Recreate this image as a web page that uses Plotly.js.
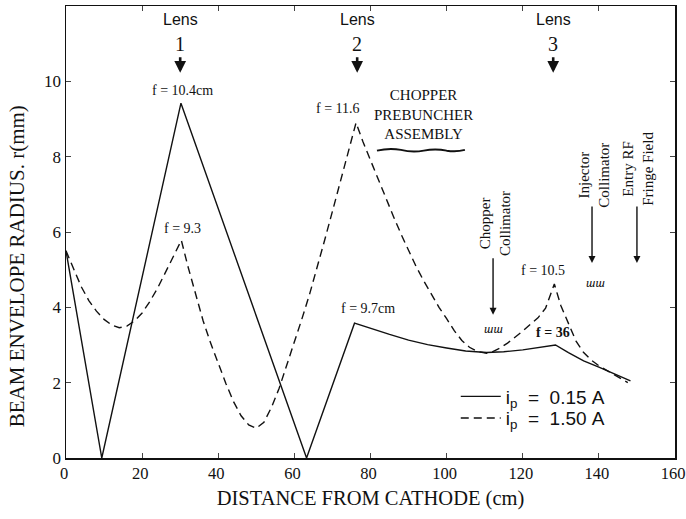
<!DOCTYPE html>
<html>
<head>
<meta charset="utf-8">
<script src="https://cdn.plot.ly/plotly-3.0.1.min.js"></script>
<style>html,body{margin:0;padding:0;background:#fff;}#chart{width:686px;height:519px;}</style>
</head>
<body>
<div id="chart"></div>
<script>
// Distance from cathode (cm) and beam envelope radius (mm)
const lowCurrentX = [0, 9.4, 30.2, 63.2, 75.8, 80, 85, 90, 95, 100, 105, 110.5, 115, 120, 125, 128.6, 132, 136, 140, 144, 148.3];
const lowCurrentY = [5.5, 0, 9.42, 0, 3.58, 3.44, 3.28, 3.13, 3.01, 2.92, 2.84, 2.8, 2.82, 2.87, 2.94, 3.0, 2.8, 2.58, 2.41, 2.24, 2.05];

const highCurrentX = [0, 2, 4, 6, 8, 10, 12, 14, 16, 18, 20, 22, 24, 26, 28, 30.3,
  32, 34, 36, 38, 40, 42, 44, 46, 48, 50, 52, 54, 56, 58, 60, 62, 64, 66, 68, 70, 72, 74, 76.2,
  78, 80, 82, 84, 86, 88, 90, 92, 94, 96, 98, 100, 102, 104, 106, 108, 110.5,
  112, 114, 116, 118, 120, 122, 124, 126, 128.3,
  130, 132, 134, 136, 138, 140, 142, 144, 146, 147.6];
const highCurrentY = [5.5, 5.0, 4.55, 4.18, 3.9, 3.68, 3.53, 3.46, 3.5, 3.64, 3.85, 4.15, 4.5, 4.9, 5.3, 5.78,
  5.1, 4.35, 3.65, 3.05, 2.5, 1.98, 1.5, 1.12, 0.88, 0.79, 0.95, 1.35, 1.85, 2.45, 3.05, 3.7, 4.35, 5.05, 5.8, 6.55, 7.3, 8.1, 8.9,
  8.4, 7.9, 7.38, 6.9, 6.42, 5.95, 5.5, 5.08, 4.7, 4.35, 4.0, 3.7, 3.38, 3.12, 2.94, 2.83, 2.78,
  2.82, 2.92, 3.05, 3.2, 3.37, 3.55, 3.72, 3.98, 4.62,
  4.05, 3.55, 3.1, 2.8, 2.6, 2.45, 2.33, 2.22, 2.1, 2.0];

const seriesNames = ["i<sub>p</sub>\u00A0 = \u00A00.15\u00A0A", "i<sub>p</sub>\u00A0 = \u00A01.50\u00A0A"];
const xTicks = [0, 20, 40, 60, 80, 100, 120, 140, 160];
const yTicks = [0, 2, 4, 6, 8, 10];

// Lenses
const lensX = [30, 76.5, 128];
const lensNames = ["1", "2", "3"];

// Focal length labels
const focalText = ["f = 10.4cm", "f = 9.3", "f = 11.6", "f = 9.7cm", "f = 10.5", "<b>f = 36</b>"];
const focalX = [30.5, 30.7, 71.5, 79.3, 125.3, 128.0];
const focalY = [9.77, 6.08, 9.27, 3.98, 4.99, 3.32];

// Collimators / markers
const markerLabels = ["Chopper<br>Collimator", "Injector<br>Collimator", "Entry RF<br>Fringe Field"];
const markerX = [112.2, 138.2, 150.0];
const markerHeadY = [3.8, 5.18, 5.18];
const markerLabelY = [6.24, 7.52, 7.68];
const markerLabelX = [112.7, 138.7, 150.3];
const hatchX = [112.2, 139.0];
const hatchY = [3.45, 4.65];

const serif = "Liberation Serif, Times New Roman, serif";
const sans = "Liberation Sans, Arial, sans-serif";

const traces = [
  {x: lowCurrentX, y: lowCurrentY, name: seriesNames[0], type: "scatter", mode: "lines",
   legend: "legend", line: {color: "#111", width: 1.4}},
  {x: highCurrentX, y: highCurrentY, name: seriesNames[1], type: "scatter", mode: "lines",
   legend: "legend2", line: {color: "#111", width: 1.4, dash: "8px,5px"}}
];

const annotations = [];
lensX.forEach((lx, i) => {
  annotations.push({x: lx, y: 11.63, xref: "x", yref: "y", text: "Lens", showarrow: false,
    font: {family: sans, size: 16, color: "#111"}});
  annotations.push({x: lx, y: 11.0, xref: "x", yref: "y", text: lensNames[i], showarrow: false,
    font: {family: serif, size: 20, color: "#111"}});
  annotations.push({x: lx, y: 10.23, xref: "x", yref: "y", text: "", showarrow: true,
    ax: 0, ay: -17, arrowhead: 2, arrowsize: 0.9, arrowwidth: 2.6, arrowcolor: "#111"});
});
focalText.forEach((t, i) => {
  annotations.push({x: focalX[i], y: focalY[i], xref: "x", yref: "y", text: t, showarrow: false,
    font: {family: serif, size: 14, color: "#111"}});
});
annotations.push({x: 93.8, y: 9.11, xref: "x", yref: "y", text: "CHOPPER<br>PREBUNCHER<br>ASSEMBLY",
  showarrow: false, font: {family: serif, size: 15, color: "#111"}});
markerLabels.forEach((t, i) => {
  annotations.push({x: markerLabelX[i], y: markerLabelY[i], xref: "x", yref: "y", text: t, showarrow: false,
    textangle: -90, font: {family: serif, size: 15, color: "#111"}});
  annotations.push({x: markerX[i], y: markerHeadY[i], xref: "x", yref: "y", text: "", showarrow: true,
    ax: 0, ay: -58, arrowhead: 2, arrowsize: 1, arrowwidth: 1.4, arrowcolor: "#111"});
});
hatchX.forEach((hx, i) => {
  annotations.push({x: hx, y: hatchY[i], xref: "x", yref: "y", text: "<i>ɯɯ</i>", showarrow: false,
    font: {family: serif, size: 13, color: "#111"}});
});
// Y axis title, placed as in the reference (slightly below the axis centre)
annotations.push({x: -0.08, y: 0.425, xref: "paper", yref: "paper", xanchor: "center", yanchor: "middle",
  text: "BEAM ENVELOPE RADIUS. r(mm)", textangle: -90, showarrow: false,
  font: {family: serif, size: 21, color: "#111"}});

const legendCommon = {xanchor: "left", yanchor: "middle", bgcolor: "rgba(0,0,0,0)",
  font: {family: sans, size: 19, color: "#111"}, itemwidth: 40};

const layout = {
  width: 686, height: 519,
  margin: {l: 66, r: 11, t: 6, b: 61},
  paper_bgcolor: "#fff", plot_bgcolor: "#fff",
  font: {family: serif, color: "#111"},
  showlegend: true,
  legend: Object.assign({x: 0.64, y: 0.136}, legendCommon),
  legend2: Object.assign({x: 0.64, y: 0.088}, legendCommon),
  xaxis: {range: [0, 160], tickvals: xTicks, ticks: "inside", ticklen: 5, tickwidth: 1,
    ticklabeloverflow: "allow", ticklabelshift: -2,
    showline: true, mirror: "ticks", linecolor: "#111", linewidth: 1.5, showgrid: false, zeroline: false,
    tickfont: {family: serif, size: 16.5, color: "#111"},
    title: {text: "DISTANCE FROM CATHODE (cm)", font: {family: serif, size: 20.5, color: "#111"}, standoff: 8}},
  yaxis: {range: [0, 12], tickvals: yTicks, ticks: "inside", ticklen: 5, tickwidth: 1,
    showline: true, mirror: "ticks", linecolor: "#111", linewidth: 1.5, showgrid: false, zeroline: false,
    tickfont: {family: serif, size: 17, color: "#111"}},
  annotations: annotations,
  shapes: [
    {type: "path", xref: "x", yref: "y",
     path: "M 81.7 8.16 Q 85 8.24 88 8.18 Q 91 8.1 94 8.16 Q 97 8.22 100 8.16 Q 102.5 8.12 104.8 8.18",
     line: {color: "#111", width: 2}}
  ]
};

Plotly.newPlot("chart", traces, layout, {staticPlot: true, displayModeBar: false});
</script>
</body>
</html>
